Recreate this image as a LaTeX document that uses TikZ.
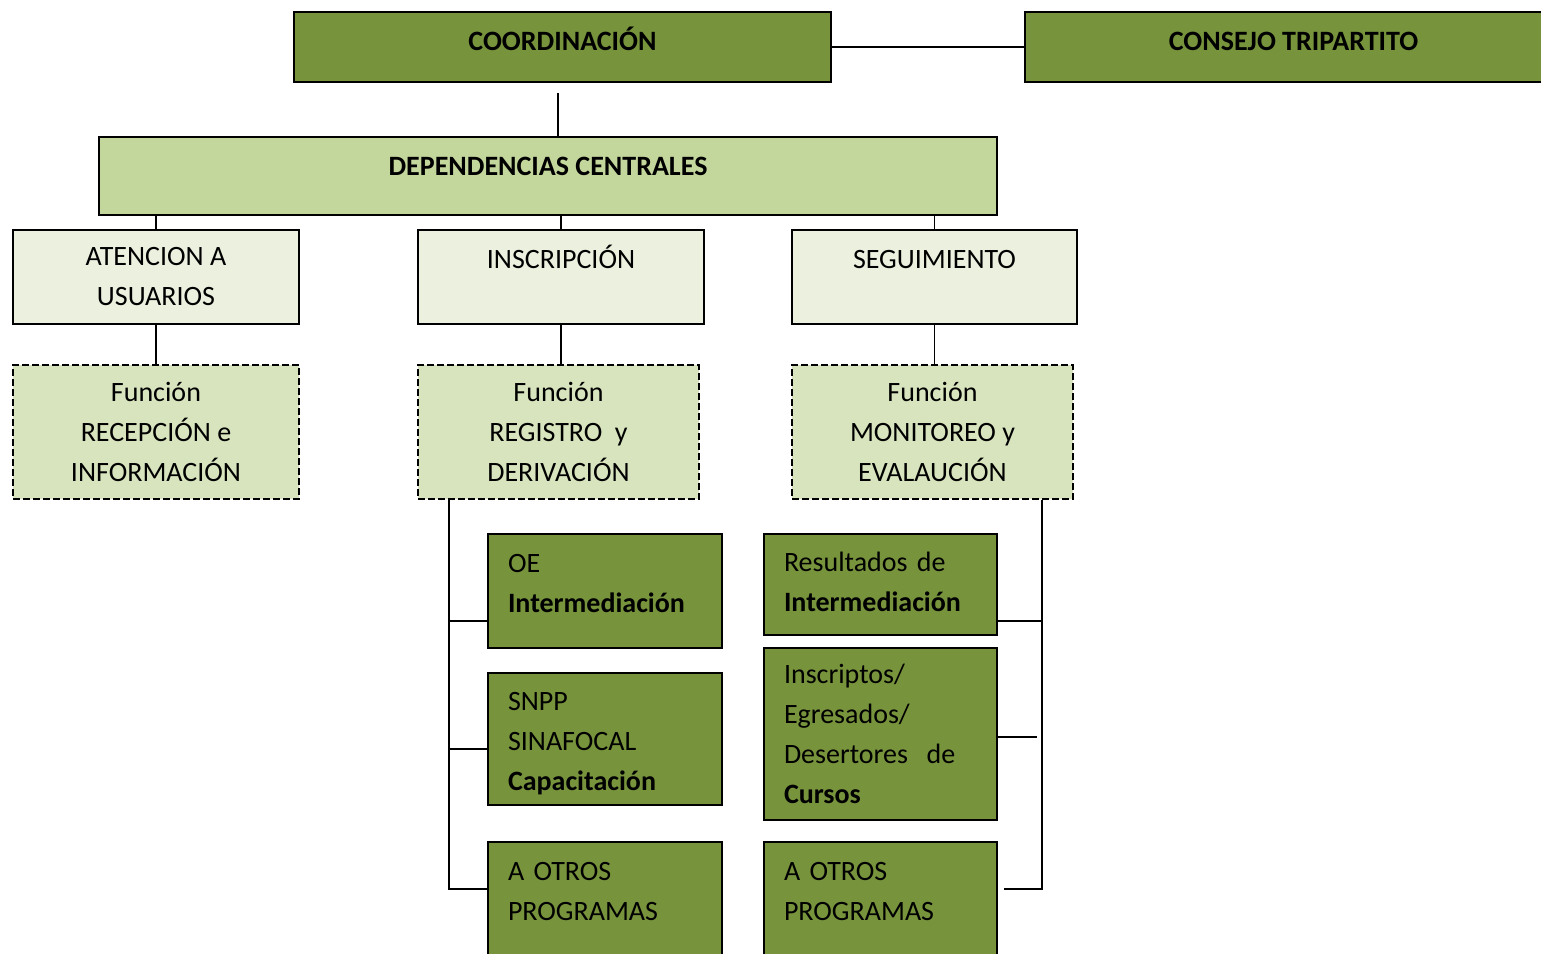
\documentclass[tikz,border=0pt]{standalone}
\usepackage{fontspec}
\setmainfont{Carlito}
\usetikzlibrary{positioning}

\definecolor{oliveD}{HTML}{77933C}
\definecolor{oliveM}{HTML}{C3D69B}
\definecolor{oliveL}{HTML}{EBF1DE}
\definecolor{oliveF}{HTML}{D7E4BD}

\begin{document}
\begin{tikzpicture}[
  x=0.5pt,y=-0.5pt,
  base/.style={rectangle,draw=black,line width=1pt,anchor=north west,inner sep=0pt,font=\fontsize{14}{20}\selectfont},
  headbox/.style={base,fill=oliveD,minimum width=268.5pt,minimum height=35pt,font=\fontsize{14}{20}\selectfont\bfseries,text height=10pt,text depth=7pt},
  mainbox/.style={base,fill=oliveM,font=\fontsize{14}{20}\selectfont\bfseries},
  unitbox/.style={base,fill=oliveL,minimum height=47pt,align=center},
  funcbox/.style={base,fill=oliveF,dash pattern=on 3.5pt off 1.5pt,line width=1pt,minimum height=67pt,align=center},
  progbox/.style={base,fill=oliveD,align=left,inner xsep=10pt},
  link/.style={line width=0.75pt,black}
]
\useasboundingbox (0,0) rectangle (1541,953);

% Top level
\node[headbox] (coord) at (293,11) {COORDINACIÓN};
\node[headbox] (consejo) at (1024,11) {CONSEJO TRIPARTITO};

% Central
\node[mainbox,minimum width=449pt,minimum height=39pt,text height=10pt,text depth=11pt] (dep) at (98,136) {DEPENDENCIAS CENTRALES};

% Units
\node[unitbox,minimum width=143pt] (aten) at (12,229) {ATENCION A\\USUARIOS};
\node[unitbox,minimum width=143pt,text height=10pt,text depth=19pt] (insc) at (417,229) {INSCRIPCIÓN};
\node[unitbox,minimum width=142.5pt,text height=10pt,text depth=19pt] (segu) at (791,229) {SEGUIMIENTO};

% Functions
\node[funcbox,minimum width=143pt] (funA) at (12,364) {Función\\RECEPCIÓN e\\INFORMACIÓN};
\node[funcbox,minimum width=140.5pt] (funB) at (417,364) {Función\\REGISTRO\ \ y\\DERIVACIÓN};
\node[funcbox,minimum width=140.5pt] (funC) at (791,364) {Función\\MONITOREO y\\EVALAUCIÓN};

% Derivation
\node[progbox,text width=97pt,minimum height=57pt] (oe) at (487,533) {OE\\\textbf{Intermediación}\\[-12pt]\mbox{}};
\node[progbox,text width=97pt,minimum height=66pt] (snpp) at (487,672) {\rule{0pt}{14pt}SNPP\\SINAFOCAL\\\textbf{Capacitación}};
\node[progbox,text width=97pt,minimum height=69pt] (otrosB) at (487,841) {A OTROS\\PROGRAMAS\\ \mbox{}};

% Monitoring
\node[progbox,text width=96.5pt,minimum height=50.5pt] (res) at (763,533) {Resultados de\\\textbf{Intermediación}\\[-17pt]\mbox{}};
\node[progbox,text width=96.5pt,minimum height=86pt] (cursos) at (763,647) {Inscriptos/\\Egresados/\\Desertores\ \ de\\\textbf{Cursos}};
\node[progbox,text width=96.5pt,minimum height=69pt] (otrosC) at (763,841) {A OTROS\\PROGRAMAS\\ \mbox{}};

% Lines
\draw[link] (coord.east) -- (consejo.west);
\draw[link] (coord.south) ++(-4.5,10) coordinate (c1) -- (c1 |- dep.north);
\draw[link] (aten.north) -- (aten.north |- dep.south);
\draw[link] (insc.north) -- (insc.north |- dep.south);
\draw[link] (segu.north) -- (segu.north |- dep.south);
\draw[link] (aten.south) -- (funA.north);
\draw[link] (insc.south) -- (insc.south |- funB.north);
\draw[link] (segu.south) -- (segu.south |- funC.north);

\draw[link] ([xshift=16pt]funB.south west) coordinate (lb) -- (lb |- 0,889) -- (otrosB.west |- 0,889);
\draw[link] (lb |- 0,621) -- (oe.west |- 0,621);
\draw[link] (lb |- 0,749) -- (snpp.west |- 0,749);

\draw[link] ([xshift=-16pt]funC.south east) coordinate (rb) -- (rb |- 0,889) -- ([xshift=3pt]otrosC.east |- 0,889);
\draw[link] (res.east |- 0,621) -- (rb |- 0,621);
\draw[link] (cursos.east |- 0,737) -- ([xshift=-2.5pt]rb |- 0,737);

\end{tikzpicture}
\end{document}
